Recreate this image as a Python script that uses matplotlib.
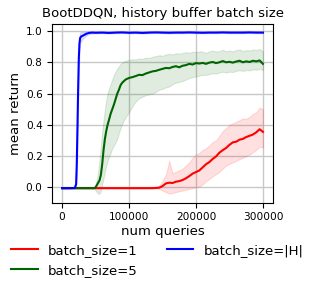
import matplotlib
matplotlib.use("Agg")
import matplotlib.pyplot as plt

# ------------------------------------------------------
# Data
red_x = list(range(0, 300001, 5000))
red_mean = [-0.005] * 28 + [
    -0.004, -0.002, 0.008, 0.025, 0.030, 0.028, 0.036, 0.040, 0.047, 0.058,
    0.072, 0.088, 0.098, 0.108, 0.128, 0.148, 0.162, 0.182, 0.198, 0.222,
    0.238, 0.252, 0.272, 0.288, 0.292, 0.305, 0.310, 0.322, 0.330, 0.338,
    0.352, 0.372, 0.355]
red_lo = [-0.005] * 28 + [
    -0.006, -0.010, -0.020, -0.030, -0.040, -0.035, -0.030, -0.025, -0.020, -0.015,
    -0.010, -0.005, 0.000, 0.005, 0.020, 0.040, 0.055, 0.070, 0.085, 0.100,
    0.120, 0.140, 0.150, 0.160, 0.170, 0.180, 0.190, 0.200, 0.210, 0.225,
    0.240, 0.260, 0.255]
red_hi = [-0.005] * 28 + [
    -0.004, 0.010, 0.040, 0.080, 0.170, 0.090, 0.100, 0.110, 0.120, 0.140,
    0.160, 0.190, 0.210, 0.220, 0.240, 0.250, 0.270, 0.290, 0.300, 0.330,
    0.360, 0.380, 0.400, 0.410, 0.420, 0.430, 0.440, 0.440, 0.450, 0.470,
    0.480, 0.510, 0.500]

green_x = [0, 10000, 20000, 30000, 40000, 48000, 50000, 52000, 54000, 56000,
           58000, 60000, 62000, 64000, 66000, 68000, 70000, 72500, 75000, 77500,
           80000, 82500, 85000, 87500, 90000] + list(range(95000, 300001, 5000))
green_mean = [
    -0.005, -0.005, -0.005, -0.005, -0.005, -0.005, 0.000, 0.015, 0.030, 0.045,
    0.080, 0.150, 0.240, 0.310, 0.360, 0.400, 0.430, 0.470, 0.500, 0.530,
    0.565, 0.600, 0.625, 0.655, 0.670,
    0.690, 0.700, 0.705, 0.712, 0.720, 0.718, 0.728, 0.735, 0.742, 0.745,
    0.752, 0.758, 0.764, 0.762, 0.770, 0.775, 0.768, 0.778, 0.782, 0.790,
    0.786, 0.795, 0.792, 0.796, 0.790, 0.798, 0.802, 0.795, 0.800, 0.808,
    0.800, 0.803, 0.798, 0.805, 0.810, 0.800, 0.806, 0.802, 0.810, 0.806,
    0.812, 0.790]
green_lo = [
    -0.005, -0.005, -0.005, -0.005, -0.005, -0.005, -0.020, -0.030, -0.040, -0.040,
    -0.020, 0.020, 0.060, 0.100, 0.140, 0.170, 0.200, 0.220, 0.250, 0.270,
    0.290, 0.310, 0.350, 0.380, 0.410,
    0.450, 0.480, 0.520, 0.550, 0.570, 0.580, 0.590, 0.595, 0.600, 0.610,
    0.625, 0.630, 0.640, 0.645, 0.660, 0.670, 0.675, 0.680, 0.690, 0.700,
    0.705, 0.710, 0.715, 0.720, 0.720, 0.725, 0.730, 0.728, 0.735, 0.740,
    0.735, 0.740, 0.738, 0.745, 0.750, 0.745, 0.750, 0.748, 0.755, 0.752,
    0.758, 0.750]
green_hi = [
    -0.005, -0.005, -0.005, -0.005, -0.005, -0.005, 0.010, 0.050, 0.100, 0.180,
    0.260, 0.360, 0.430, 0.500, 0.560, 0.600, 0.630, 0.660, 0.690, 0.720,
    0.740, 0.760, 0.775, 0.790, 0.800,
    0.810, 0.815, 0.820, 0.818, 0.825, 0.822, 0.830, 0.828, 0.835, 0.840,
    0.845, 0.842, 0.850, 0.855, 0.850, 0.858, 0.855, 0.860, 0.865, 0.860,
    0.868, 0.865, 0.870, 0.868, 0.860, 0.870, 0.875, 0.868, 0.872, 0.880,
    0.870, 0.875, 0.870, 0.878, 0.882, 0.872, 0.878, 0.875, 0.882, 0.878,
    0.885, 0.870]

blue_x = [0, 10000, 19000, 21000, 22000, 23000, 24000, 25000, 26000, 27000,
          28500, 30000, 33000, 36000, 40000, 45000, 50000] + list(range(60000, 300001, 10000))
blue_mean = [
    -0.005, -0.005, -0.004, 0.020, 0.150, 0.380, 0.620, 0.820, 0.920, 0.955,
    0.965, 0.968, 0.975, 0.982, 0.988, 0.990, 0.989,
    0.990, 0.988, 0.990, 0.991, 0.989, 0.990, 0.988, 0.990, 0.991, 0.990,
    0.989, 0.990, 0.990, 0.991, 0.990, 0.989, 0.990, 0.990, 0.991, 0.990,
    0.990, 0.990, 0.991, 0.990, 0.990]
blue_lo = [
    -0.005, -0.005, -0.004, 0.000, 0.080, 0.280, 0.520, 0.740, 0.870, 0.920,
    0.935, 0.945, 0.958, 0.970, 0.980, 0.984, 0.985,
    0.986, 0.984, 0.986, 0.987, 0.985, 0.986, 0.984, 0.986, 0.987, 0.986,
    0.985, 0.986, 0.986, 0.987, 0.986, 0.985, 0.986, 0.986, 0.987, 0.986,
    0.986, 0.986, 0.987, 0.986, 0.986]
blue_hi = [
    -0.005, -0.005, -0.004, 0.050, 0.240, 0.500, 0.740, 0.900, 0.970, 0.990,
    0.995, 0.995, 0.995, 0.995, 0.995, 0.995, 0.994,
    0.994, 0.992, 0.994, 0.995, 0.993, 0.994, 0.992, 0.994, 0.995, 0.994,
    0.993, 0.994, 0.994, 0.995, 0.994, 0.993, 0.994, 0.994, 0.995, 0.994,
    0.994, 0.994, 0.995, 0.994, 0.994]

series = [
    ("batch_size=1", "red", red_x, red_mean, red_lo, red_hi),
    ("batch_size=5", "darkgreen", green_x, green_mean, green_lo, green_hi),
    ("batch_size=|H|", "blue", blue_x, blue_mean, blue_lo, blue_hi),
]

# ------------------------------------------------------
# Plot
fig, ax = plt.subplots(figsize=(3.16, 2.91), dpi=100)
fig.subplots_adjust(left=52 / 316, right=273 / 316, top=1 - 24 / 291, bottom=1 - 203 / 291)

for label, color, x, m, lo, hi in series:
    ax.fill_between(x, lo, hi, color=color, alpha=0.12, linewidth=0.8)
    ax.plot(x, m, color=color, linewidth=1.5, label=label)

ax.set_xlim(-15000, 315000)
ax.set_ylim(-0.1, 1.045)
ax.set_xticks([0, 100000, 200000, 300000])
ax.set_yticks([0.0, 0.2, 0.4, 0.6, 0.8, 1.0])
ax.tick_params(labelsize=7.6, length=3.3)
ax.grid(True, color="#c8c8c8", linewidth=1.0)
ax.set_axisbelow(True)

ax.set_title("BootDDQN, history buffer batch size", fontsize=9.5, pad=5)
ax.set_xlabel("num queries", fontsize=9.5, labelpad=2)
ax.set_ylabel("mean return", fontsize=9.5, labelpad=3)

ax.legend(loc="upper center", bbox_to_anchor=(0.477, -0.2), ncol=2, frameon=False,
          fontsize=9.5, handlelength=2.0, columnspacing=2.2, labelspacing=0.5,
          borderaxespad=0)

fig.savefig("out.png", dpi=100)
